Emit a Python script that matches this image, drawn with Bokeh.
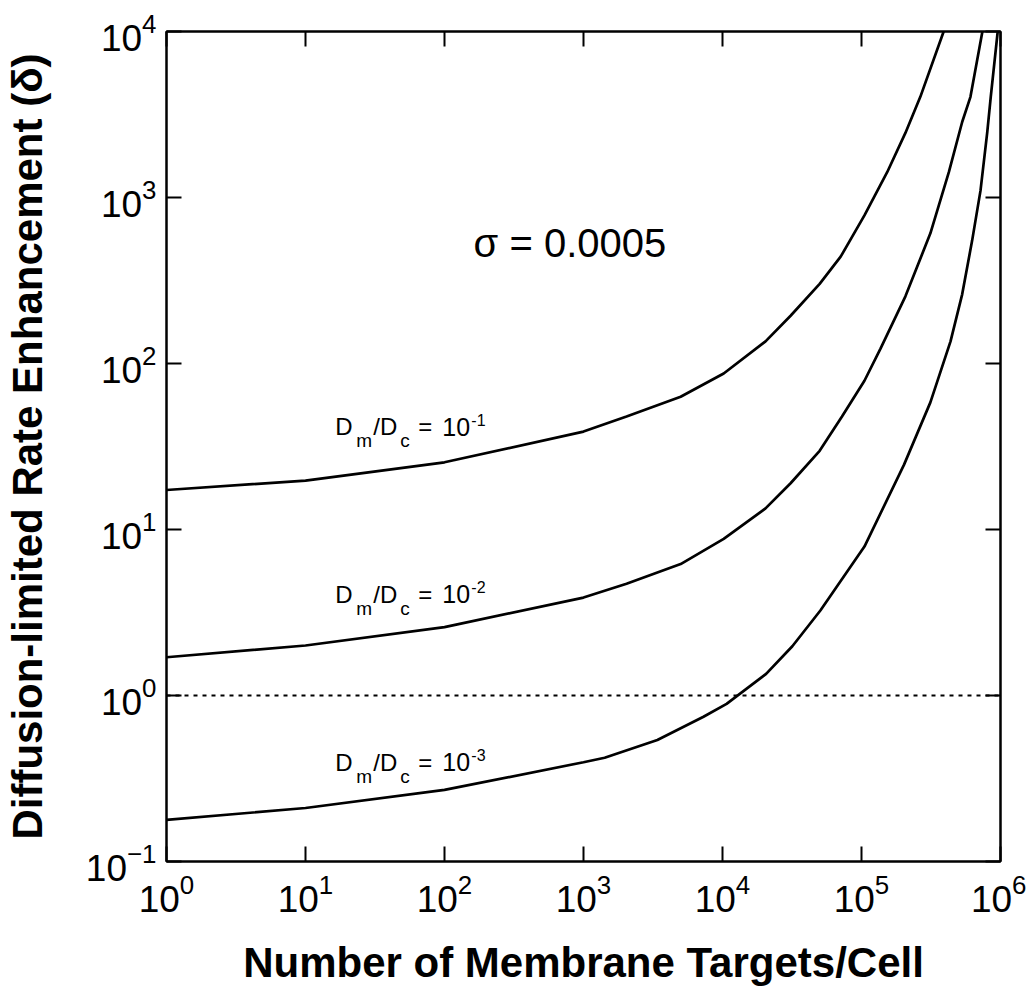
from bokeh.plotting import figure
from bokeh.models import Range1d, FixedTicker, LogAxis, Span
from bokeh.core.properties import value
from bokeh.embed import file_html
from bokeh.resources import INLINE

FONT = "Liberation Sans"

x_ticks = [1, 10, 100, 1e3, 1e4, 1e5, 1e6]
y_ticks = [0.1, 1, 10, 100, 1e3, 1e4]

# Dm/Dc = 1e-1
n1 = [1, 10, 100, 1000, 2040, 5000, 1.02e4, 2.04e4, 3.09e4, 5.0e4, 7.08e4,
      1.05e5, 1.53e5, 2.07e5, 2.65e5, 3.9e5]
d1 = [17.3, 19.7, 25.4, 38.9, 47.9, 63.1, 87.1, 136, 194, 302, 440,
      780, 1420, 2450, 4040, 10000]

# Dm/Dc = 1e-2
n2 = [1, 10, 100, 1000, 2040, 5000, 1.02e4, 2.04e4, 3.09e4, 5.0e4, 7.24e4,
      1.05e5, 1.37e5, 2.07e5, 3.13e5, 4.25e5, 5.3e5, 6.08e5, 7.41e5]
d2 = [1.70, 2.0, 2.58, 3.89, 4.71, 6.19, 8.79, 13.4, 19.0, 29.8, 47.9,
      78.7, 123, 254, 608, 1420, 2850, 4040, 10000]

# Dm/Dc = 1e-3
n3 = [1, 10, 100, 1000, 1420, 3400, 7300, 1.07e4, 2.06e4, 3.18e4, 5.06e4,
      1.05e5, 2.02e5, 3.13e5, 4.37e5, 5.3e5, 6.25e5, 7.18e5, 8.02e5, 8.51e5,
      9.55e5]
d3 = [0.178, 0.21, 0.27, 0.396, 0.422, 0.54, 0.745, 0.891, 1.35, 1.98, 3.25,
      7.89, 24.5, 58.3, 136, 261, 550, 1100, 2450, 4040, 10000]

ratio_exps = ["-1", "-2", "-3"]
label_x = [16.4, 16.4, 16.4]
label_y = [41.7, 4.06, 0.395]

sigma_text = "σ = 0.0005"

p = figure(width=1026, height=990, x_axis_type="log", y_axis_type="log",
           x_range=Range1d(1, 1e6), y_range=Range1d(0.1, 1e4),
           output_backend="svg", toolbar_location=None,
           min_border_left=166, min_border_right=26,
           min_border_top=31, min_border_bottom=129)

p.xgrid.visible = False
p.ygrid.visible = False
p.outline_line_color = "black"
p.outline_line_width = 2
p.background_fill_color = "white"
p.border_fill_color = "white"

p.xaxis.axis_label = "Number of Membrane Targets/Cell"
p.yaxis.axis_label = "Diffusion-limited Rate Enhancement (δ)"

for ax in [p.xaxis[0], p.yaxis[0]]:
    ax.axis_line_width = 2
    ax.axis_line_color = "black"
    ax.major_tick_in = 15
    ax.major_tick_out = 0
    ax.major_tick_line_width = 2
    ax.minor_tick_line_color = None
    ax.major_label_text_font = FONT
    ax.major_label_text_font_size = "37px"
    ax.major_label_text_color = "black"
    ax.axis_label_text_font = FONT
    ax.axis_label_text_font_size = "42px"
    ax.axis_label_text_font_style = "bold"
    ax.axis_label_text_color = "black"

p.xaxis.ticker = FixedTicker(ticks=x_ticks)
p.yaxis.ticker = FixedTicker(ticks=y_ticks)
p.xaxis.major_label_standoff = 12
p.yaxis.major_label_standoff = 10
p.xaxis.axis_label_standoff = 24
p.yaxis.axis_label_standoff = 32

top_ax = LogAxis(ticker=FixedTicker(ticks=x_ticks))
right_ax = LogAxis(ticker=FixedTicker(ticks=y_ticks))
for ax in [top_ax, right_ax]:
    ax.axis_line_width = 2
    ax.major_tick_in = 15
    ax.major_tick_out = 0
    ax.major_tick_line_width = 2
    ax.minor_tick_line_color = None
    ax.major_label_text_font_size = "0px"
    ax.major_label_text_color = None
p.add_layout(top_ax, "above")
p.add_layout(right_ax, "right")

p.add_layout(Span(location=1, dimension="width", line_color="black",
                  line_width=2, line_dash="4 5"))

for n, d in [(n1, d1), (n2, d2), (n3, d3)]:
    p.line(n, d, line_color="black", line_width=2.7)


def txt(x, y, t, dx, dy, size):
    p.text(x=[x], y=[y], text=[t], x_offset=dx, y_offset=dy,
           text_font=value(FONT), text_font_size=size, text_color="black",
           text_align="left", text_baseline="alphabetic")


for lx, ly, e in zip(label_x, label_y, ratio_exps):
    txt(lx, ly, "D", 0, 0, "24px")
    txt(lx, ly, "m", 21, 14, "19px")
    txt(lx, ly, "/D", 38, 0, "24px")
    txt(lx, ly, "c", 65, 14, "19px")
    txt(lx, ly, "=", 83, 0, "24px")
    txt(lx, ly, "10", 107, 0, "25px")
    txt(lx, ly, e, 136, -7, "16px")

txt(162, 535, sigma_text, 0, 0, "40px")

open("out.html", "w").write(file_html(p, INLINE))
